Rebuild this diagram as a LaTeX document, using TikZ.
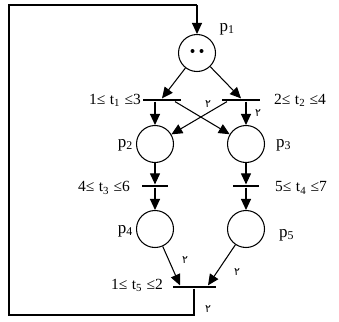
\documentclass[tikz,border=0pt]{standalone}
\usepackage{fontspec}
\setmainfont{Liberation Serif}
\newfontfamily\fafont[Script=Arabic]{DejaVu Sans}
\usetikzlibrary{arrows.meta}
\newcommand{\gapsp}{\hspace{4.5pt}}
\begin{document}
\begin{tikzpicture}[x=1pt,y=-1pt,
  place/.style={circle,draw,line width=1.05pt,minimum size=37pt,inner sep=0pt},
  bar/.style={rectangle,fill=black,inner sep=0pt,minimum height=2.8pt},
  arr/.style={line width=1.05pt,-{Triangle[length=11pt,width=10pt]}},
  ln/.style={line width=1.05pt},
  lbl/.style={font=\fontsize{15.5}{17}\selectfont,inner sep=0pt},
  plbl/.style={font=\fontsize{17}{19}\selectfont,inner sep=0pt},
  wt/.style={font=\fafont\fontsize{11}{12}\selectfont,inner sep=0pt}]
\useasboundingbox (0,0) rectangle (339,321);
% places
\node[place] (p1) at (197,53) {};
\node[place] (p2) at (155,144) {};
\node[place] (p3) at (246,144) {};
\node[place] (p4) at (155,229) {};
\node[place] (p5) at (246,229) {};
% tokens
\fill (p1.center) ++(-4.5,-2) circle (2pt) coordinate (tk1);
\fill (p1.center) ++(4.5,-2) circle (2pt) coordinate (tk2);
% transitions
\node[bar,minimum width=38pt] (t1) at (162,100) {};
\node[bar,minimum width=38pt] (t2) at (241,100) {};
\node[bar,minimum width=26pt] (t3) at (155,186) {};
\node[bar,minimum width=26pt] (t4) at (246,186) {};
\node[bar,minimum width=43pt] (t5) at (194,287) {};
% loop corners
\coordinate (c1) at (194,315);
\coordinate (c2) at (9,315);
\coordinate (c3) at (9,5);
\coordinate (c4) at (197,5);
% arcs
\draw[arr] (p1) -- (t1.north);
\draw[arr] (p1) -- (t2.north);
\draw[arr] ([xshift=-7pt]t1.south) -- (p2);
\draw[arr] ([xshift=13pt]t1.south) -- (p3);
\draw[arr] ([xshift=5pt]t2.south) -- (p3);
\draw[arr] ([xshift=-14pt]t2.south) -- (p2);
\draw[arr] (p2) -- (t3.north);
\draw[arr] (t3.south) -- (p4);
\draw[arr] (p3) -- (t4.north);
\draw[arr] (t4.south) -- (p5);
\draw[arr] (p4) -- ([xshift=-14pt]t5.north);
\draw[arr] (p5) -- ([xshift=14pt]t5.north);
\draw[ln] (t5.south) -- (c1) -- (c2) -- (c3) -- (c4);
\draw[arr] (c4) -- (p1);
% labels
\node[plbl] (lp1) at (227,29) {p\textsubscript{1}};
\node[lbl,anchor=east] (lt1) at (141,100) {1≤\gapsp t\textsubscript{1}\gapsp ≤3};
\node[lbl,anchor=west] (lt2) at (274,100) {2≤\gapsp t\textsubscript{2}\gapsp ≤4};
\node[plbl,anchor=east] (lp2) at (133,145) {p\textsubscript{2}};
\node[plbl,anchor=west] (lp3) at (276,145) {p\textsubscript{3}};
\node[lbl,anchor=east] (lt3) at (130,188) {4≤\gapsp t\textsubscript{3}\gapsp ≤6};
\node[lbl,anchor=west] (lt4) at (275,188) {5≤\gapsp t\textsubscript{4}\gapsp ≤7};
\node[plbl,anchor=east] (lp4) at (133,231) {p\textsubscript{4}};
\node[plbl,anchor=west] (lp5) at (279,235) {p\textsubscript{5}};
\node[lbl,anchor=east] (lt5) at (163,285) {1≤\gapsp t\textsubscript{5}\gapsp ≤2};
% weights
\node[wt] (w1) at (208,104) {۲};
\node[wt] (w2) at (258,113) {۲};
\node[wt] (w3) at (185,260) {۲};
\node[wt] (w4) at (237,272) {۲};
\node[wt] (w5) at (208,309) {۲};
\end{tikzpicture}
\end{document}
